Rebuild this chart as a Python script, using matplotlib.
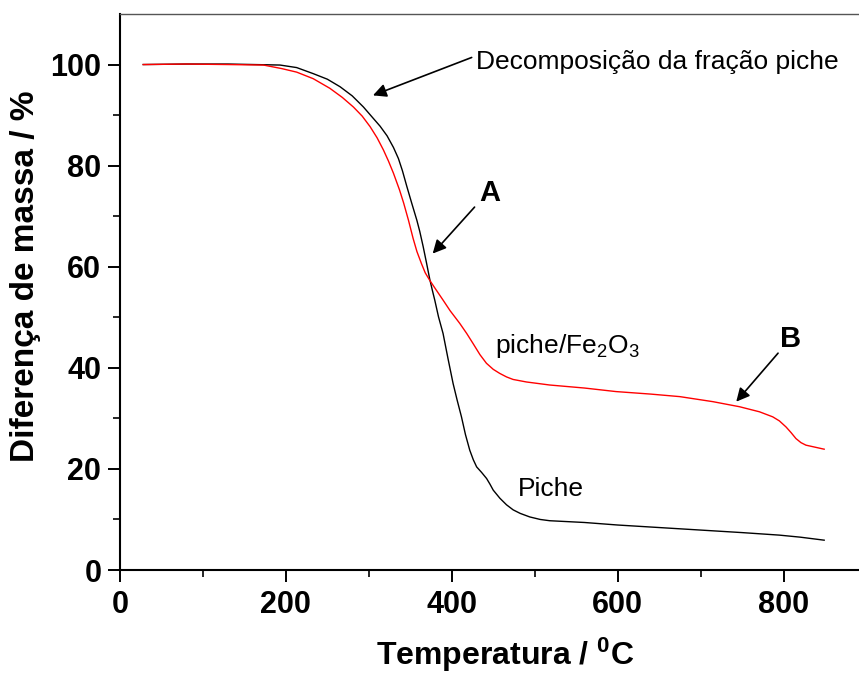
import matplotlib

matplotlib.use("Agg")
import matplotlib.pyplot as plt

plt.rcParams["font.family"] = ["Liberation Sans", "DejaVu Sans"]
plt.rcParams["mathtext.fontset"] = "custom"
plt.rcParams["mathtext.rm"] = "Liberation Sans"
plt.rcParams["mathtext.it"] = "Liberation Sans"
plt.rcParams["mathtext.bf"] = "Liberation Sans:bold"

# TGA curves
temp_piche = [28, 80, 130, 193, 213, 233, 250, 265.4, 280, 293.5, 303, 313.6, 322, 329.7,
              335.7, 340.5, 345.8, 351.5, 357.9, 361.4, 365.5, 369.5, 373.5, 376.5, 379.5,
              384, 389.5, 395.5, 401.6, 406.5, 411.7, 416.5, 421.7, 426, 430, 436, 442,
              446, 450, 458, 466, 474, 482.5, 494, 506.6, 518, 560, 600, 650, 700, 750,
              795, 820, 849]
mass_piche = [100.0, 100.1, 100.1, 99.9, 99.4, 98.2, 97.1, 95.6, 93.8, 91.6, 89.8, 87.8,
              85.9, 83.6, 81.4, 79.0, 75.9, 72.7, 69.2, 67.0, 64.0, 60.8, 57.5, 55.4,
              53.4, 50.1, 46.8, 41.8, 36.9, 33.6, 30.3, 26.8, 23.7, 21.8, 20.4, 19.3,
              18.1, 17.0, 15.8, 14.2, 12.9, 11.9, 11.2, 10.5, 10.0, 9.75, 9.4, 8.9, 8.4,
              7.9, 7.4, 6.9, 6.5, 5.9]

temp_fe = [28, 80, 130, 173, 195, 213, 233, 253, 268, 281.4, 292, 301.6, 310, 317.6,
           323.7, 329.7, 337, 342, 347.8, 353.4, 358, 363.5, 368, 373.5, 380, 389.5,
           398, 409.6, 418, 425.7, 434, 441.8, 450, 457.8, 466, 473.9, 490, 518, 560,
           598, 640, 675, 715, 747, 771, 787, 795, 803, 809, 815, 821, 827, 838, 849]
mass_fe = [100.0, 100.1, 100.0, 99.9, 99.2, 98.5, 97.2, 95.3, 93.5, 91.6, 89.8, 87.7,
           85.5, 83.1, 80.9, 78.5, 75.2, 72.6, 69.2, 65.6, 63.0, 60.6, 58.8, 57.3, 55.7,
           53.4, 51.3, 48.8, 46.8, 44.8, 42.6, 40.9, 39.7, 38.9, 38.2, 37.7, 37.2, 36.6,
           36.0, 35.3, 34.8, 34.3, 33.3, 32.3, 31.3, 30.3, 29.5, 28.3, 27.2, 26.0, 25.2,
           24.7, 24.3, 23.9]

xticks = [0, 200, 400, 600, 800]
yticks = [0, 20, 40, 60, 80, 100]

W, H = 859, 673
fig = plt.figure(figsize=(W / 100, H / 100), dpi=100)
ax = fig.add_axes([120 / W, (H - 570) / H, (W - 120) / W, (570 - 14) / H])

ax.plot(temp_piche, mass_piche, color="black", lw=1.0, solid_joinstyle="round")
ax.plot(temp_fe, mass_fe, color="#ff0000", lw=1.0, solid_joinstyle="round")

ax.set_xlim(0, 891)
ax.set_ylim(0, 110)
ax.set_xticks(xticks)
ax.set_yticks(yticks)
ax.set_xticks([100, 300, 500, 700], minor=True)
ax.set_yticks([10, 30, 50, 70, 90], minor=True)
ax.tick_params(which="major", direction="out", length=8.5, width=1.4, labelsize=22, pad=5)
ax.tick_params(which="minor", direction="out", length=5, width=1.2)
ax.tick_params(axis="x", which="major", pad=6)
for lab in ax.get_xticklabels() + ax.get_yticklabels():
    lab.set_fontweight("bold")

ax.spines["right"].set_visible(False)
ax.spines["left"].set_linewidth(1.5)
ax.spines["bottom"].set_linewidth(1.5)
ax.spines["top"].set_linewidth(1.0)
ax.spines["top"].set_color("#555555")

arrow = dict(arrowstyle="-|>", color="black", lw=1.2, mutation_scale=20,
             shrinkA=0, shrinkB=0)
ax.annotate("", xy=(305, 93.9), xytext=(424, 101.4), arrowprops=arrow)
ax.text(429, 99.2, "Decomposição da fração piche", fontsize=19, va="baseline", ha="left")

ax.annotate("", xy=(377, 62.6), xytext=(427.5, 71.8), arrowprops=arrow)
ax.text(446, 74.5, "A", fontsize=21, fontweight="bold", ha="center", va="center")

ax.annotate("", xy=(743, 33.3), xytext=(793.4, 42.9), arrowprops=arrow)
ax.text(808, 45.7, "B", fontsize=21, fontweight="bold", ha="center", va="center")

ax.text(452, 42.9, "piche/Fe$_2$O$_3$", fontsize=19, va="baseline", ha="left")
ax.text(480, 14.6, "Piche", fontsize=19, va="baseline", ha="left")

fig.text(26 / W, (H - 276) / H, "Diferença de massa / %", rotation=90, fontsize=24,
         fontweight="bold", ha="center", va="center")
fig.text(505 / W, (H - 665) / H, r"Temperatura / $\mathbf{^{0}}$C", fontsize=23,
         fontweight="bold", ha="center", va="baseline")

fig.savefig("out.png", dpi=100)
